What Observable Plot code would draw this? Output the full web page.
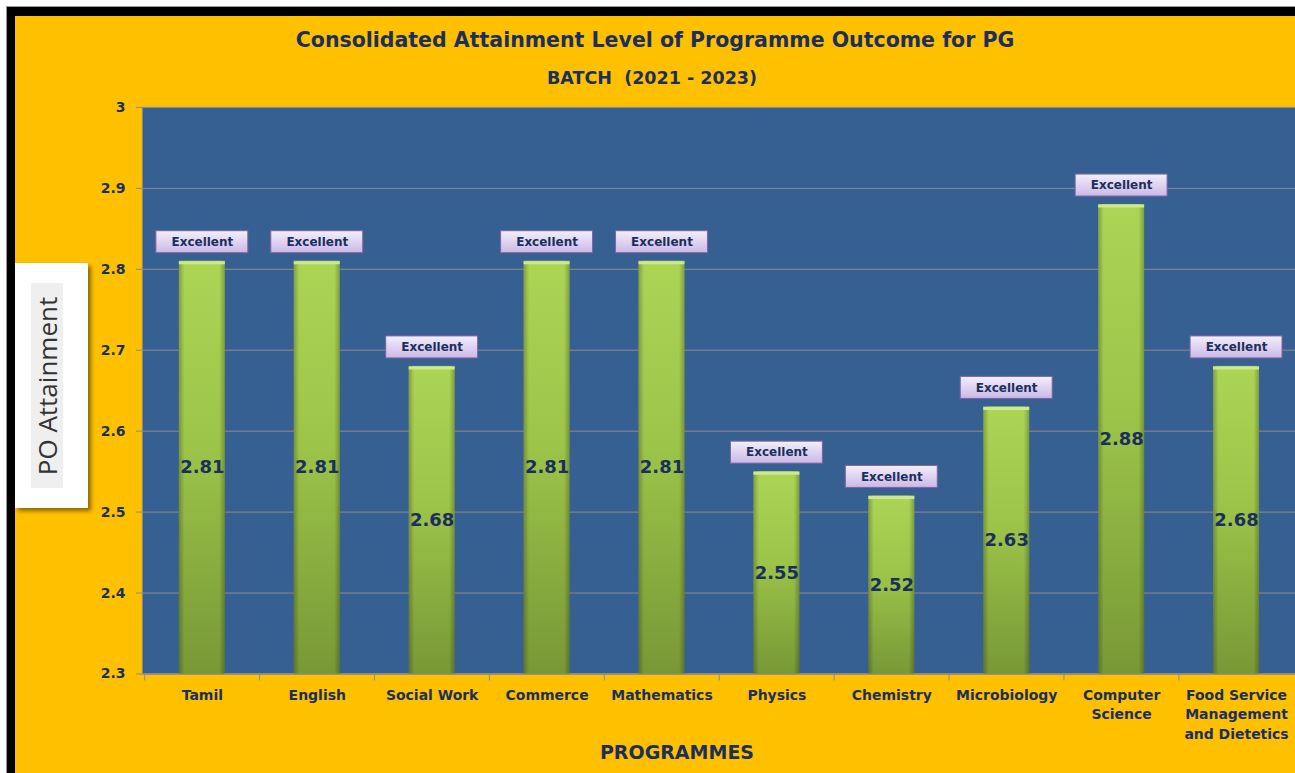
<!DOCTYPE html>
<html>
<head>
<meta charset="utf-8">
<script src="https://cdn.jsdelivr.net/npm/d3@7"></script>
<script src="https://cdn.jsdelivr.net/npm/@observablehq/plot@0.6"></script>
<style>
  html, body { margin: 0; padding: 0; background: #fff; overflow: hidden; }
  #page { position: relative; width: 1295px; height: 773px; overflow: hidden; }
  #border { position: absolute; left: 7px; top: 7px; width: 1300px; height: 780px;
            border-left: 8px solid #000; border-top: 9px solid #000; box-shadow: -1px -1px 0 #999; background: #FFC000; }
  .t { position: absolute; font-family: "DejaVu Sans", sans-serif; font-weight: bold; color: #1b2f5e; white-space: nowrap; transform: translate(-50%, -50%); }
  #chart { position: absolute; left: 0; top: 0; }
  #ybox { position: absolute; left: 15px; top: 263px; width: 73px; height: 245px; background: #fff;
          box-shadow: 3px 3px 4px rgba(0,0,0,0.45); }
  #ybox .inner { position: absolute; left: 16px; top: 20px; width: 32px; height: 205px; background: #efefef; }
  #ybox .lab { position: absolute; left: 32px; top: 123px; transform: translate(-50%, -50%) rotate(-90deg);
               font-family: "Open Sans", sans-serif; font-size: 26px; color: #333; white-space: nowrap; }
</style>
</head>
<body>
<div id="page">
  <div id="border"></div>
  <div id="chart"></div>
  <div class="t" style="left:655px; top:40px; font-size:20.5px;">Consolidated Attainment Level of Programme Outcome for PG</div>
  <div class="t" style="left:652px; top:78px; font-size:17.5px;">BATCH&nbsp; (2021 - 2023)</div>
  <div class="t" style="left:677px; top:752px; font-size:19px;">PROGRAMMES</div>
  <div id="ybox"><div class="inner"></div><div class="lab">PO Attainment</div></div>
</div>
<script>
const programmes = ["Tamil", "English", "Social Work", "Commerce", "Mathematics", "Physics", "Chemistry", "Microbiology", "Computer\nScience", "Food Service\nManagement\nand Dietetics"];
const attainment = [2.81, 2.81, 2.68, 2.81, 2.81, 2.55, 2.52, 2.63, 2.88, 2.68];
const levels = ["Excellent", "Excellent", "Excellent", "Excellent", "Excellent", "Excellent", "Excellent", "Excellent", "Excellent", "Excellent"];
const yTicks = [2.3, 2.4, 2.5, 2.6, 2.7, 2.8, 2.9, 3];

const data = programmes.map((p, i) => ({ programme: p, value: attainment[i], level: levels[i] }));

const W = 1296, H = 773, mT = 107, mB = 99, mL = 142, mR = 0;
const ppu = (H - mT - mB) / (3 - 2.3); // pixels per unit
const navy = "#1b2f5e";

const defs = () => {
  const d = d3.create("svg:defs");
  const g1 = d.append("linearGradient").attr("id", "barGrad").attr("x1", 0).attr("y1", 0).attr("x2", 0).attr("y2", 1);
  g1.append("stop").attr("offset", "0%").attr("stop-color", "#acd556");
  g1.append("stop").attr("offset", "45%").attr("stop-color", "#9cc449");
  g1.append("stop").attr("offset", "100%").attr("stop-color", "#789836");
  const g2 = d.append("linearGradient").attr("id", "barEdge").attr("x1", 0).attr("y1", 0).attr("x2", 1).attr("y2", 0);
  g2.append("stop").attr("offset", "0%").attr("stop-color", "#000").attr("stop-opacity", 0.25);
  g2.append("stop").attr("offset", "12%").attr("stop-color", "#000").attr("stop-opacity", 0);
  g2.append("stop").attr("offset", "88%").attr("stop-color", "#000").attr("stop-opacity", 0);
  g2.append("stop").attr("offset", "100%").attr("stop-color", "#000").attr("stop-opacity", 0.25);
  const g3 = d.append("linearGradient").attr("id", "boxGrad").attr("x1", 0).attr("y1", 0).attr("x2", 0).attr("y2", 1);
  g3.append("stop").attr("offset", "0%").attr("stop-color", "#f3eefb");
  g3.append("stop").attr("offset", "100%").attr("stop-color", "#cbb9e6");
  return d.node();
};

const step = (W - mL - mR) / programmes.length;

const chart = Plot.plot({
  width: W, height: H,
  marginTop: mT, marginBottom: mB, marginLeft: mL, marginRight: mR,
  style: { background: "transparent", fontFamily: "DejaVu Sans, sans-serif", fontWeight: "bold", fontSize: "14px", color: navy, overflow: "visible" },
  x: { domain: programmes, paddingInner: 0.6, paddingOuter: 0.3, label: null },
  y: { domain: [2.3, 3], label: null },
  marks: [
    defs,
    Plot.frame({ fill: "#376092", stroke: "#8c8c8c" }),
    Plot.gridY(yTicks, { stroke: "#8c8c8c", strokeOpacity: 1 }),
    Plot.axisY({ ticks: yTicks, tickFormat: d => String(d), tickSize: 6, tickPadding: 11, stroke: "#8c8c8c", fill: navy, fontSize: 14, label: null }),
    Plot.axisX({ tickSize: 0, tickPadding: 13, fill: navy, fontSize: 14, lineHeight: 1.36, label: null }),
    Plot.ruleX(programmes, { x: d => d, y1: 2.3, y2: 2.3, insetBottom: -7, dx: -step / 2, stroke: "#8c8c8c" }),
    Plot.ruleY([2.3], { stroke: "#8c8c8c" }),
    Plot.barY(data, { x: "programme", y1: 2.3, y2: "value", fill: "url(#barGrad)" }),
    Plot.barY(data, { x: "programme", y1: 2.3, y2: "value", fill: "url(#barEdge)" }),
    Plot.tickY(data, { x: "programme", y: "value", stroke: "#cde88f", strokeWidth: 3, dy: 1.5 }),
    Plot.text(data, { x: "programme", y: d => (d.value + 2.3) / 2, text: d => d.value.toFixed(2), fill: navy, fontSize: 18, fontWeight: "bold" }),
    Plot.barY(data, { x: "programme", y1: "value", y2: d => d.value + 22 / ppu, dy: -8, insetLeft: -23, insetRight: -23,
                      fill: "url(#boxGrad)", stroke: "#8064a2", strokeWidth: 1 }),
    Plot.text(data, { x: "programme", y: d => d.value + 11 / ppu, dy: -8, text: "level", fill: navy, fontSize: 12, fontWeight: "bold" })
  ]
});
document.getElementById("chart").appendChild(chart);
</script>
</body>
</html>
